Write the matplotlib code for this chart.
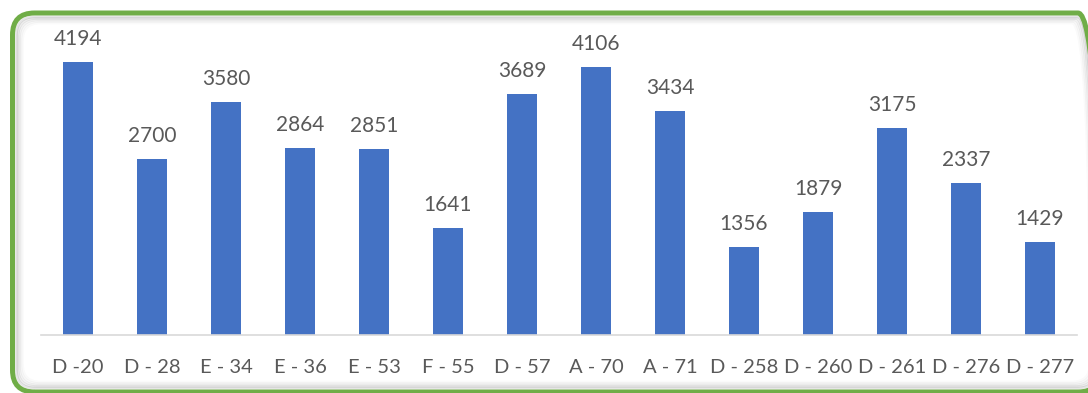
import matplotlib.pyplot as plt
from matplotlib.patches import FancyBboxPatch

categories = ['D -20', 'D - 28', 'E - 34', 'E - 36', 'E - 53', 'F - 55', 'D - 57',
              'A - 70', 'A - 71', 'D - 258', 'D - 260', 'D - 261', 'D - 276', 'D - 277']
values = [4194, 2700, 3580, 2864, 2851, 1641, 3689, 4106, 3434, 1356, 1879, 3175, 2337, 1429]

W, H = 1088, 393
fig = plt.figure(figsize=(W / 100, H / 100), dpi=100)
fig.patch.set_facecolor('white')


def box(x0, y0, x1, y1, r, **kw):
    # rounded rectangle in pixel coords measured from the top-left corner
    p = FancyBboxPatch((x0 / W, 1 - y1 / H), (x1 - x0) / W, (y1 - y0) / H,
                       boxstyle='round,pad=0,rounding_size=%g' % (r / W),
                       mutation_aspect=W / H, transform=fig.transFigure,
                       fill=False, **kw)
    fig.add_artist(p)


# soft inner shadow, then the green frame
for i, a in enumerate([0.10, 0.07, 0.05, 0.03, 0.02]):
    d = 4 + i * 1.5
    box(12.5 + d, 13 + d, 1100 - d, 392 - d, 18, edgecolor='black', linewidth=2, alpha=a, zorder=0)
box(12.5, 13, 1100, 392, 22, edgecolor='#70AD47', linewidth=3.6, zorder=1)

ax = fig.add_axes([41 / W, (H - 335) / H, (1077 - 41) / W, 326 / H])
x = range(len(categories))
bars = ax.bar(x, values, width=0.405, color='#4472C4', zorder=2)
for b, v in zip(bars, values):
    ax.text(b.get_x() + b.get_width() / 2, v + 200, str(v), ha='center', va='bottom',
            fontsize=15, color='#595959', family='Lato')

ax.set_xlim(-0.5, len(categories) - 0.5)
ax.set_ylim(0, 5000)
ax.set_xticks(list(x))
ax.set_xticklabels(categories, fontsize=14.5, color='#595959', family='Lato')
ax.tick_params(axis='x', length=0, pad=17)
ax.set_yticks([])
for s in ['top', 'right', 'left']:
    ax.spines[s].set_visible(False)
ax.spines['bottom'].set_color('#D9D9D9')
ax.spines['bottom'].set_linewidth(1.2)
ax.patch.set_alpha(0)

fig.savefig('out.png', dpi=100)
